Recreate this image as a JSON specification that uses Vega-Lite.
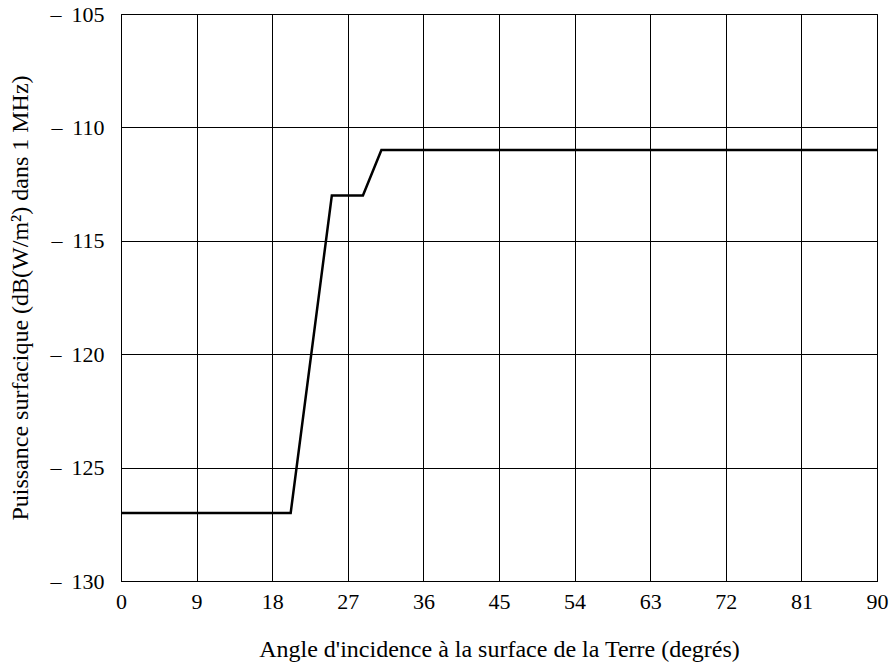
{
  "$schema": "https://vega.github.io/schema/vega-lite/v6.json",
  "width": 756,
  "height": 567,
  "autosize": "none",
  "padding": {"left": 121, "top": 14, "right": 14, "bottom": 83},
  "background": "white",
  "config": {
    "view": {"stroke": "black", "strokeWidth": 1},
    "font": "Liberation Serif",
    "axis": {
      "labelFont": "Liberation Serif",
      "titleFont": "Liberation Serif",
      "labelFontSize": 22,
      "titleFontSize": 24,
      "titleFontWeight": "normal",
      "labelColor": "black",
      "titleColor": "black",
      "grid": true,
      "gridColor": "black",
      "gridOpacity": 1,
      "gridWidth": 1,
      "domainColor": "black",
      "ticks": false
    }
  },
  "data": {
    "values": [
      {"angle": 0, "pfd": -127},
      {"angle": 20.2, "pfd": -127},
      {"angle": 25.1, "pfd": -113},
      {"angle": 28.8, "pfd": -113},
      {"angle": 31, "pfd": -111},
      {"angle": 90, "pfd": -111}
    ]
  },
  "mark": {"type": "line", "color": "black", "strokeWidth": 2.5},
  "encoding": {
    "x": {
      "field": "angle",
      "type": "quantitative",
      "scale": {"domain": [0, 90], "nice": false, "zero": false},
      "axis": {
        "values": [0, 9, 18, 27, 36, 45, 54, 63, 72, 81, 90],
        "labelPadding": 10,
        "title": "Angle d'incidence à la surface de la Terre (degrés)",
        "titlePadding": 25,
        "labelFlush": false
      }
    },
    "y": {
      "field": "pfd",
      "type": "quantitative",
      "scale": {"domain": [-130, -105], "nice": false, "zero": false},
      "axis": {
        "values": [-130, -125, -120, -115, -110, -105],
        "labelExpr": "'–\u2009 ' + abs(datum.value)",
        "labelPadding": 17,
        "title": "Puissance surfacique (dB(W/m²) dans 1 MHz)",
        "titlePadding": 18,
        "labelFlush": false
      }
    }
  }
}
